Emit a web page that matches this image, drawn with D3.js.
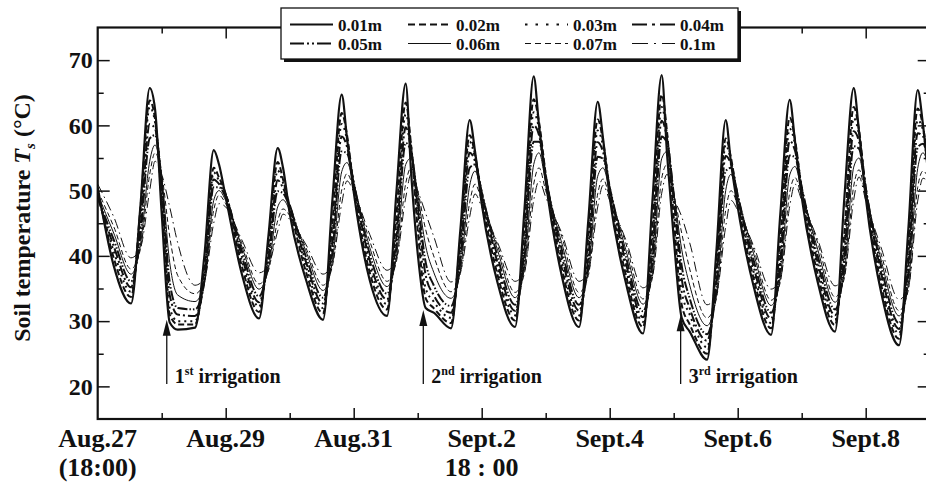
<!DOCTYPE html>
<html lang="en">
<head>
<meta charset="utf-8">
<title>Soil temperature at eight depths</title>
<script src="https://d3js.org/d3.v7.min.js"></script>
<style>
  body { margin: 0; background: #fff; }
  svg { display: block; font-family: "Liberation Serif", "Times New Roman", serif; font-weight: bold; }
</style>
</head>
<body>
<svg id="chart" width="926" height="482"></svg>
<script>
// hours after Aug.27 18:00
const hours = [
  0, 6, 12.5, 16, 19.5, 21.5,
  24, 27, 30, 36.5, 40, 43.5, 45.5,
  48, 54, 60.5, 64, 67.5, 69.5,
  72, 78, 84.5, 88, 91.5, 93.5,
  96, 102, 108.5, 112, 115.5, 117.5,
  120, 123, 126, 132.5, 136, 139.5, 141.5,
  144, 150, 156.5, 160, 163.5, 165.5,
  168, 174, 180.5, 184, 187.5, 189.5,
  192, 198, 204.5, 208, 211.5, 213.5,
  216, 219, 222, 228.5, 232, 235.5, 237.5,
  240, 246, 252.5, 256, 259.5, 261.5,
  264, 270, 276.5, 280, 283.5, 285.5,
  288, 294, 300.5, 304, 307.5, 309.5, 312
];

const d001 = [
  50.5, 38.5, 32.7, 47.5, 65.7, 62.5,
  46.5, 29.8, 28.7, 29.0, 40, 56.2, 54.0,
  49, 37.3, 30.4, 43, 56.5, 53.5,
  46.5, 36.5, 30.2, 48.5, 64.7, 58,
  49.8, 36.3, 30.8, 49.7, 66.4, 53,
  40.4, 32, 31.3, 28.9, 44, 60.8, 56,
  48, 35.8, 29.1, 46.9, 67.5, 60,
  51.5, 37, 29.1, 45.6, 63.6, 58,
  49, 36, 28.1, 48.3, 67.7, 55.6,
  42.8, 30.5, 28.4, 24.1, 40.7, 60.8, 54.2,
  47.5, 35.3, 27.9, 46.5, 63.9, 57.5,
  49, 36, 28.4, 48.9, 65.7, 59,
  49, 34, 26.3, 44.2, 65.4, 60, 50
];
const d002 = [
  50, 39.7, 33.7, 47.2, 63.8, 61,
  48.5, 31, 29.5, 29.5, 37.7, 53.5, 52,
  49.5, 38.5, 31.4, 41.7, 54.4, 51.7,
  47.5, 37.7, 31.2, 45, 61.9, 58.5,
  50.5, 37.5, 31.8, 46.1, 63.5, 57,
  44, 33.5, 32, 29.7, 42.7, 58.5, 55.5,
  49, 37, 30.1, 44.3, 64, 60.5,
  52.5, 38.2, 30.1, 43, 60.9, 57.6,
  50, 37.2, 29.1, 44.1, 64.7, 59,
  46, 32.5, 29.5, 25, 38.9, 58, 55,
  48.5, 36.5, 28.9, 42.5, 61.2, 57.8,
  50, 37.2, 29.4, 43.4, 62.8, 59.3,
  50, 35.2, 27.3, 42.1, 62.6, 59.8, 51.5
];
const d003 = [
  49.5, 40.7, 34.5, 45.8, 62.8, 60.5,
  50, 32, 30, 30, 36.8, 52.8, 51.5,
  49.5, 39.3, 32.2, 40.6, 53.1, 51.2,
  47.8, 38.5, 32, 43.3, 60.2, 57.8,
  51, 38.5, 32.6, 44.2, 61.7, 57,
  46, 35, 33, 30.5, 41.3, 57.5, 55,
  49.5, 38, 30.9, 42.4, 62, 59.5,
  52.5, 39.2, 30.9, 41.4, 59.2, 56.9,
  50.5, 38.2, 29.9, 42.1, 62.8, 58.5,
  48, 34.5, 31, 26, 37.5, 57, 54.5,
  49, 37.5, 29.7, 40.7, 59.5, 57.1,
  50.5, 38.2, 30.2, 41.6, 61.1, 58.6,
  50.5, 36.2, 28.1, 40.2, 60.8, 59.3, 52
];
const d004 = [
  49, 41.5, 35.2, 44.1, 60.2, 59.5,
  51, 34, 31, 30.8, 36.3, 51.7, 51,
  49.3, 40, 32.9, 39.5, 51.6, 50.4,
  47.8, 39.2, 32.7, 41.7, 58.3, 56.7,
  51.2, 39.3, 33.3, 42.6, 59.7, 56.5,
  47.5, 37, 34, 31.3, 39.9, 55.8, 54.5,
  49.8, 38.8, 31.6, 40.8, 60, 58.5,
  52.3, 40, 31.6, 39.9, 57.4, 55.9,
  50.5, 39, 30.6, 40.3, 60.7, 58,
  49, 36.5, 32, 27, 36.1, 55.3, 54,
  49.3, 38.3, 30.4, 39.2, 57.6, 56.1,
  50.5, 39, 30.9, 40, 59.1, 57.5,
  50.5, 37, 28.8, 38.5, 58.8, 58.3, 52.5
];
const d005 = [
  49, 42.5, 36.1, 43, 58, 58.5,
  51.5, 36, 32, 31.8, 36.1, 50.5, 50.5,
  49, 40.8, 33.8, 38.8, 49.9, 49.6,
  47.5, 40, 33.6, 40.5, 56, 55.7,
  51.2, 40.3, 34.2, 41.3, 57.3, 56,
  48.5, 39, 35.5, 32.3, 39, 53.5, 54,
  49.8, 39.8, 32.5, 39.5, 57.5, 57.5,
  52, 41, 32.5, 38.8, 55.2, 54.9,
  50.5, 40, 31.5, 38.9, 58.3, 57.3,
  49.5, 38.5, 33.5, 28, 35, 53, 53.5,
  49.3, 39.3, 31.3, 38, 55.4, 55.1,
  50.5, 40, 31.8, 38.7, 56.8, 56.4,
  50.3, 38, 29.7, 37.2, 56.6, 57.2, 52.5
];
const d006 = [
  49.5, 43.5, 37.2, 41.6, 54.5, 57,
  52, 39, 34, 33, 35.8, 48.5, 50,
  48.5, 41.5, 34.9, 38, 47.5, 48.6,
  47, 40.8, 34.7, 39.1, 52.9, 54.3,
  51, 41.3, 35.3, 39.8, 54, 55,
  49.5, 41.5, 37.5, 33.5, 37.8, 50.8, 53,
  49.5, 40.8, 33.6, 38.1, 54, 55.8,
  51.3, 42, 33.6, 37.7, 52.2, 53.5,
  50, 41, 32.6, 37.4, 54.9, 56,
  49.8, 41, 35.5, 29.3, 33.9, 50, 52.5,
  49, 40.3, 32.4, 36.7, 52.4, 53.7,
  50, 41, 32.9, 37.4, 53.6, 55,
  50, 39, 30.8, 35.7, 53.4, 55.8, 52.5
];
const d007 = [
  50, 44.5, 38, 41, 52.5, 55.8,
  52.5, 43, 37, 34.2, 36, 47, 49.3,
  48, 42, 35.7, 37.7, 45.4, 47.2,
  46.2, 41.3, 35.5, 38.4, 50.1, 52.6,
  50.3, 42.3, 36.1, 39.1, 51.1, 53.5,
  50, 44, 40, 34.5, 37.3, 48.2, 51,
  48.5, 41.5, 34.4, 37.3, 51, 53.5,
  50, 43, 34.4, 37, 49.5, 51.8,
  49, 42, 33.4, 36.6, 51.9, 54,
  49.5, 43.5, 38, 30.5, 33.4, 47, 50,
  47.8, 41, 33.2, 36, 49.7, 52,
  49, 42, 33.7, 36.6, 50.7, 53.2,
  49, 40, 31.6, 34.8, 50.5, 53, 51.5
];
const d010 = [
  51, 46, 39.7, 41.2, 50, 54.5,
  52.5, 47.5, 42, 35.5, 36.5, 45, 48,
  47.5, 42.5, 37.4, 38.5, 43.8, 46.4,
  45.6, 41.8, 37.2, 38.9, 48, 51.5,
  49.8, 43.3, 37.8, 39.6, 48.9, 52.5,
  50, 46.5, 43, 36, 37.6, 46, 49.5,
  47.5, 42, 36.1, 37.6, 48.5, 51.5,
  49, 43.5, 36.1, 37.6, 47.5, 50.8,
  48.5, 42.5, 35.1, 36.9, 49.6, 52.5,
  49, 46, 42, 32.5, 34.1, 44.5, 48.5,
  47, 41.5, 34.9, 36.5, 47.6, 51,
  48.5, 42.5, 35.4, 37.1, 48.6, 52.1,
  48.5, 41, 33.3, 35.2, 48.4, 51.9, 51
];

const depthNames = ["0.01m", "0.02m", "0.03m", "0.04m", "0.05m", "0.06m", "0.07m", "0.1m"];
const depthValues = [d001, d002, d003, d004, d005, d006, d007, d010];

const yTicks = [20, 30, 40, 50, 60, 70];
const yMinorTicks = [25, 35, 45, 55, 65];
const xLabelHours = [0, 48, 96, 144, 192, 240, 288];
const xLabels = ["Aug.27", "Aug.29", "Aug.31", "Sept.2", "Sept.4", "Sept.6", "Sept.8"];
const xSubLabels = ["(18:00)", "", "", "18 : 00", "", "", ""];
const xMinorHours = [24, 72, 120, 168, 216, 264];

const irrigHours = [25.9, 122.1, 218.6];
const irrigTipTemp = [30.2, 31.7, 30.9];
const irrigNum = ["1", "2", "3"];
const irrigSup = ["st", "nd", "rd"];

// line look per depth
const styles = [
  { w: 2.2, dash: null,               legendDash: null },
  { w: 2.0, dash: "6,3",              legendDash: "7,4" },
  { w: 2.0, dash: "2,4",              legendDash: "2.5,8" },
  { w: 2.0, dash: "10,3,2,3",         legendDash: "15,5,3,5" },
  { w: 2.0, dash: "10,2,1.5,2,1.5,2", legendDash: "14,3,2,3,2,3" },
  { w: 1.0, dash: null,               legendDash: null },
  { w: 1.0, dash: "5,3",              legendDash: "6,4" },
  { w: 1.0, dash: "10,4,1.5,4",       legendDash: "16,6,2,6" }
];

const mLeft = 97.7, mRight = 929.7, mTop = 27.5, mBottom = 419;

const svg = d3.select("#chart");

const x = d3.scaleLinear().domain([0, 312]).range([mLeft, mRight]);
const y = d3.scaleLinear().domain([15, 75]).range([mBottom, mTop]);

svg.append("defs").append("clipPath").attr("id", "plot")
  .append("rect")
  .attr("x", mLeft).attr("y", mTop)
  .attr("width", mRight - mLeft).attr("height", mBottom - mTop);

// curves
const line = d3.line()
  .x(d => x(d[0]))
  .y(d => y(d[1]))
  .curve(d3.curveMonotoneX);

const plot = svg.append("g").attr("clip-path", "url(#plot)");

// deep lines first so the thick shallow ones sit on top
for (let i = depthValues.length - 1; i >= 0; i--) {
  const pts = hours.map((h, j) => [h, depthValues[i][j]]);
  plot.append("path")
    .datum(pts)
    .attr("d", line)
    .attr("fill", "none")
    .attr("stroke", "#111")
    .attr("stroke-width", styles[i].w)
    .attr("stroke-linejoin", "round")
    .attr("stroke-dasharray", styles[i].dash);
}

// axes (ticks point inwards on all four sides)
function styleAxis(g) {
  g.select(".domain").remove();
  g.selectAll(".tick line").attr("stroke", "#111").attr("stroke-width", 1.5);
}

svg.append("g").attr("transform", `translate(0,${mBottom})`)
  .call(d3.axisBottom(x).tickValues(xLabelHours.slice(1)).tickSize(-11).tickFormat(""))
  .call(styleAxis);
svg.append("g").attr("transform", `translate(0,${mBottom})`)
  .call(d3.axisBottom(x).tickValues(xMinorHours).tickSize(-6).tickFormat(""))
  .call(styleAxis);
svg.append("g").attr("transform", `translate(0,${mTop})`)
  .call(d3.axisTop(x).tickValues(xLabelHours.slice(1)).tickSize(-11).tickFormat(""))
  .call(styleAxis);
svg.append("g").attr("transform", `translate(0,${mTop})`)
  .call(d3.axisTop(x).tickValues(xMinorHours).tickSize(-6).tickFormat(""))
  .call(styleAxis);

const yAxis = svg.append("g").attr("transform", `translate(${mLeft},0)`)
  .call(d3.axisLeft(y).tickValues(yTicks).tickSize(-12).tickPadding(5).tickFormat(d3.format("d")))
  .call(styleAxis);
yAxis.selectAll("text")
  .attr("fill", "#111")
  .style("font-family", "'Liberation Serif', 'Times New Roman', serif")
  .style("font-weight", "bold")
  .style("font-size", "24px");
svg.append("g").attr("transform", `translate(${mLeft},0)`)
  .call(d3.axisLeft(y).tickValues(yMinorTicks).tickSize(-6).tickFormat(""))
  .call(styleAxis);
svg.append("g").attr("transform", `translate(${mRight},0)`)
  .call(d3.axisRight(y).tickValues(yTicks).tickSize(-12).tickFormat(""))
  .call(styleAxis);
svg.append("g").attr("transform", `translate(${mRight},0)`)
  .call(d3.axisRight(y).tickValues(yMinorTicks).tickSize(-6).tickFormat(""))
  .call(styleAxis);

// frame
svg.append("rect")
  .attr("x", mLeft).attr("y", mTop)
  .attr("width", mRight - mLeft).attr("height", mBottom - mTop)
  .attr("fill", "none").attr("stroke", "#111").attr("stroke-width", 2.2);

// x labels
const xl = svg.append("g").attr("fill", "#111").style("font-size", "26px");
xl.selectAll("text.main").data(xLabelHours).enter().append("text")
  .attr("class", "main")
  .attr("x", d => x(d)).attr("y", 447)
  .attr("text-anchor", "middle")
  .text((d, i) => xLabels[i]);
xl.selectAll("text.sub").data(xLabelHours).enter().append("text")
  .attr("class", "sub")
  .attr("x", d => x(d)).attr("y", 476)
  .attr("text-anchor", "middle")
  .text((d, i) => xSubLabels[i]);

// y title
const title = svg.append("text")
  .attr("transform", "translate(30,218) rotate(-90)")
  .attr("text-anchor", "middle")
  .attr("fill", "#111")
  .style("font-size", "24px");
title.append("tspan").text("Soil temperature ");
title.append("tspan").style("font-style", "italic").text("T");
title.append("tspan").attr("dy", 5).style("font-size", "15px").style("font-style", "italic").text("s");
title.append("tspan").attr("dy", -5).text(" (\u00B0C)");

// irrigation arrows
const irr = svg.append("g").attr("fill", "#111");
irrigHours.forEach((h, i) => {
  const ax = x(h), tip = y(irrigTipTemp[i]);
  irr.append("line")
    .attr("x1", ax).attr("x2", ax)
    .attr("y1", tip + 8).attr("y2", 384)
    .attr("stroke", "#111").attr("stroke-width", 1.3);
  irr.append("path")
    .attr("d", `M${ax},${tip} L${ax - 4},${tip + 16} L${ax + 4},${tip + 16} Z`);
  const t = irr.append("text")
    .attr("x", ax + 8).attr("y", 383)
    .style("font-size", "20px");
  t.append("tspan").text(irrigNum[i]);
  t.append("tspan").attr("dy", -8).style("font-size", "12px").text(irrigSup[i]);
  t.append("tspan").attr("dy", 8).text(" irrigation");
});

// legend: 4 columns x 2 rows
const lg = svg.append("g");
lg.append("rect")
  .attr("x", 284).attr("y", 11).attr("width", 457).attr("height", 51)
  .attr("fill", "#111");
lg.append("rect")
  .attr("x", 281).attr("y", 8).attr("width", 457).attr("height", 51)
  .attr("fill", "#fff").attr("stroke", "#111").attr("stroke-width", 1.3);

const colX = [290, 408, 525, 632];
const rowY = [24.5, 43.5];
depthNames.forEach((name, i) => {
  const cx = colX[i % 4], cy = rowY[Math.floor(i / 4)];
  lg.append("line")
    .attr("x1", cx).attr("x2", cx + 43)
    .attr("y1", cy).attr("y2", cy)
    .attr("stroke", "#111")
    .attr("stroke-width", styles[i].w)
    .attr("stroke-dasharray", styles[i].legendDash);
  lg.append("text")
    .attr("x", cx + 48).attr("y", cy + 6)
    .attr("fill", "#111")
    .style("font-size", "17px")
    .text(name);
});
</script>
</body>
</html>
